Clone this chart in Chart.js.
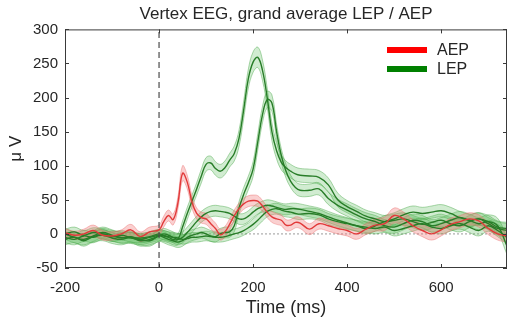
<!DOCTYPE html>
<html>
<head>
<meta charset="utf-8">
<script src="https://cdn.jsdelivr.net/npm/chart.js@4/dist/chart.umd.min.js"></script>
<style>
html,body{margin:0;padding:0;background:#fff;overflow:hidden;}
canvas{display:block;}
</style>
</head>
<body>
<canvas id="c" width="508" height="322"></canvas>
<script>
// ---- data (time in ms, amplitude in µV) ----
const times = [-200,-180,-160,-140,-120,-100,-80,-60,-40,-20,0,
  10,20,30,40,50,60,70,80,90,100,110,120,130,140,150,160,170,180,190,200,
  210,220,230,240,250,260,270,280,290,300,
  320,340,360,380,400,420,440,460,480,500,520,540,560,580,600,620,640,660,680,700,720,740];

const aepMean = [2,-2,0,5,-2,-3,0,6,-4,3,6,
  18,27,21,45,89,76,47,30,24,22, 15,8,-1,3,14,27,37,44,48,49, 48,41,32,25,22,20,13,13,17,16,
  7,15,12,8,5,0,7,13,15,27,22,12,5,0,6,14,18,22,19,8,0,-3];
const aepSE = [6,6,7,8,7,6,6,8,7,7,7,
  8,8,8,9,11,10,9,8,8,8, 8,8,8,8,8,8,8,8,8,8, 8,8,8,8,8,8,8,8,8,8,
  8,8,8,8,8,8,8,9,10,11,10,9,9,9,9,9,9,9,9,9,9,9];

const lepA = [-5,-8,-3,-5,0,-3,-5,-6,-8,-5,-2,
  -3,-5,-8,-8,10,30,48,66,85,102, 104,96,92,97,108,118,140,182,228,252, 259,240,200,150,122,105,97,92,88,86,
  85,83,72,50,40,33,26,22,18,20,22,18,14,17,20,15,12,18,22,15,8,5];
const lepASE = [8,8,8,8,8,8,8,8,8,8,8,
  8,8,8,8,9,9,9,9,10,10, 10,10,10,10,10,11,12,13,14,15, 15,15,14,13,12,11,10,10,10,10,
  10,10,10,10,9,9,9,9,9,9,9,9,9,9,9,9,9,9,9,9,10,10];

const lepB = [0,-5,-8,-3,2,-2,-6,-4,-8,-10,-3,
  -5,-8,-10,-12,-10,-5,-2,0,2,0, -3,-4,0,2,3,12,38,58,75,95, 135,175,197,192,150,115,92,77,68,64,
  64,66,52,42,35,28,22,18,12,10,15,20,18,12,15,20,24,20,15,18,12,-18];
const lepBSE = [8,8,8,8,8,8,8,8,8,8,8,
  8,8,8,8,8,8,8,8,8,8, 8,8,8,8,8,9,9,10,10,11, 12,12,12,12,11,10,10,9,9,9,
  9,9,9,9,9,9,9,9,9,9,9,9,9,9,9,9,9,9,9,10,11,12];

const lepC = [-8,-5,-10,-4,-2,-6,-8,-5,-10,-8,-3,
  0,-2,-5,-8,-5,2,10,18,25,30, 33,34,33,32,30,26,22,22,26,32, 37,40,42,41,39,37,36,37,37,36,
  33,30,25,20,16,12,8,12,18,22,28,32,30,32,34,30,24,20,22,18,10,8];
const lepCSE = [8,8,8,8,8,8,8,8,8,8,8,
  8,8,8,8,8,8,8,8,8,8, 8,8,8,8,8,8,8,8,8,8, 8,8,8,8,8,8,8,8,8,8,
  8,8,8,8,8,8,8,8,9,9,9,9,9,9,9,9,9,9,9,9,9,9];

const lepD = [0,3,-2,2,0,-4,-2,-5,-6,-4,0,
  -2,-4,-5,-6,-8,-7,-5,-5,-4,-3, -4,-5,-5,-4,-2,0,2,5,9,14, 20,27,33,36,37,35,33,32,30,29,
  30,28,22,18,15,12,10,8,10,5,8,12,15,10,8,12,15,10,5,12,5,-5];
const lepDSE = [7,7,7,7,7,7,7,7,7,7,7,
  7,7,7,7,7,7,7,7,7,7, 7,7,7,7,7,7,7,7,7,8, 8,8,8,8,8,8,8,8,8,8,
  8,8,8,8,8,8,8,8,8,8,8,8,8,8,8,8,8,8,8,8,9,9];

const xTicks = [-200, 0, 200, 400, 600];
const yTicks = [-50, 0, 50, 100, 150, 200, 250, 300];
const legendLabels = ['AEP', 'LEP'];
const titleText = 'Vertex EEG, grand average LEP / AEP';
const xTitle = 'Time (ms)';
const yTitle = 'μ V';

// ---- build datasets ----
function pts(arr, se, sign) {
  return times.map((t, i) => ({x: t, y: arr[i] + (se ? sign * se[i] : 0)}));
}
const RED_LINE = 'rgb(226,58,58)', RED_FILL = 'rgba(240,120,120,0.35)', RED_EDGE = 'rgba(235,110,110,0.55)';
const GRN_LINE = 'rgb(40,125,40)', GRN_FILL = 'rgba(90,185,90,0.28)', GRN_EDGE = 'rgba(70,165,70,0.55)';

function band(mean, se, line, fill, edge) {
  const common = {pointRadius: 0, tension: 0.4, borderWidth: 0.8, borderColor: edge};
  return [
    Object.assign({data: pts(mean, se, 1), fill: false, order: 2}, common),
    Object.assign({data: pts(mean, se, -1), fill: '-1', backgroundColor: fill, order: 2}, common),
    {data: pts(mean, null, 0), borderColor: line, borderWidth: 1.4, pointRadius: 0, tension: 0.4, fill: false, order: 1}
  ];
}

const datasets = [
  {data: [{x: -200, y: 0}, {x: 740, y: 0}], borderColor: '#9a9a9a', borderWidth: 1, borderDash: [2, 2], pointRadius: 0, fill: false, order: 3},
  {data: [{x: 0, y: -50}, {x: 0, y: 300}], borderColor: '#4a4a4a', borderWidth: 1.2, borderDash: [6, 4], pointRadius: 0, fill: false, order: 0},
  ...band(aepMean, aepSE, RED_LINE, RED_FILL, RED_EDGE),
  ...band(lepD, lepDSE, GRN_LINE, GRN_FILL, GRN_EDGE),
  ...band(lepC, lepCSE, GRN_LINE, GRN_FILL, GRN_EDGE),
  ...band(lepB, lepBSE, GRN_LINE, GRN_FILL, GRN_EDGE),
  ...band(lepA, lepASE, GRN_LINE, GRN_FILL, GRN_EDGE)
];

const TXT = '#262626';
const FONT = "'Liberation Sans', Arial, Helvetica, sans-serif";

const boxPlugin = {
  id: 'box',
  afterDraw(chart) {
    const {ctx, chartArea: a, scales} = chart;
    ctx.save();
    ctx.strokeStyle = '#3a3a3a';
    ctx.lineWidth = 1;
    ctx.strokeRect(a.left + 0.5, a.top + 0.5, a.right - a.left - 1, a.bottom - a.top - 1);
    const L = 4;
    ctx.beginPath();
    xTicks.forEach(v => {
      const px = Math.round(scales.x.getPixelForValue(v)) + 0.5;
      ctx.moveTo(px, a.bottom); ctx.lineTo(px, a.bottom - L);
      ctx.moveTo(px, a.top); ctx.lineTo(px, a.top + L);
    });
    yTicks.forEach(v => {
      const py = Math.round(scales.y.getPixelForValue(v)) + 0.5;
      ctx.moveTo(a.left, py); ctx.lineTo(a.left + L, py);
      ctx.moveTo(a.right, py); ctx.lineTo(a.right - L, py);
    });
    ctx.stroke();
    // legend
    const colors = ['#ff0000', '#008000'];
    ctx.font = '16px ' + FONT;
    ctx.textBaseline = 'middle';
    ctx.textAlign = 'left';
    legendLabels.forEach((lab, i) => {
      const y = 50 + i * 19;
      ctx.fillStyle = colors[i];
      ctx.fillRect(387, y - 3, 40, 6);
      ctx.fillStyle = TXT;
      ctx.fillText(lab, 437, y + 1);
    });
    ctx.restore();
  }
};

new Chart(document.getElementById('c'), {
  type: 'line',
  data: {datasets},
  plugins: [boxPlugin],
  options: {
    responsive: false,
    animation: false,
    devicePixelRatio: 1,
    layout: {padding: {left: 0, right: 1, top: 0, bottom: 0}},
    plugins: {
      legend: {display: false},
      tooltip: {enabled: false},
      title: {display: true, text: titleText, fullSize: false, color: TXT,
        font: {family: FONT, size: 17, weight: 'normal'}, padding: {top: 4, bottom: 5}}
    },
    scales: {
      x: {
        type: 'linear', min: -200, max: 740,
        grid: {display: false, drawTicks: false}, border: {display: false},
        ticks: {stepSize: 200, includeBounds: false, color: TXT, padding: 11, maxRotation: 0,
          font: {family: FONT, size: 15}},
        afterBuildTicks(s) { s.ticks = xTicks.map(v => ({value: v})); },
        afterFit(s) { s.height = 54; },
        title: {display: true, text: xTitle, color: TXT, font: {family: FONT, size: 18}, padding: {top: 0, bottom: 3}}
      },
      y: {
        type: 'linear', min: -50, max: 300,
        grid: {display: false, drawTicks: false}, border: {display: false},
        ticks: {stepSize: 50, color: TXT, padding: 7, font: {family: FONT, size: 15}},
        afterBuildTicks(s) { s.ticks = yTicks.map(v => ({value: v})); },
        afterFit(s) { s.width = 65; },
        title: {display: true, text: yTitle, color: TXT, font: {family: FONT, size: 17}, padding: {top: 6, bottom: 0}}
      }
    }
  }
});
</script>
</body>
</html>
